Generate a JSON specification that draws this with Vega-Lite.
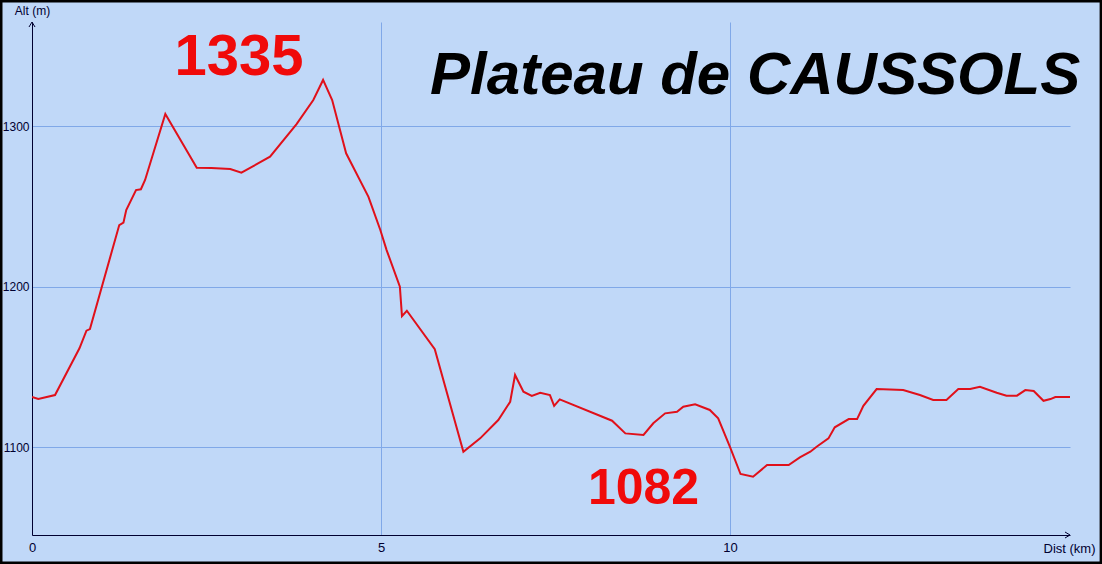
{
  "$schema": "https://vega.github.io/schema/vega-lite/v6.json",
  "width": 1038,
  "height": 513,
  "autosize": {"type": "none"},
  "padding": {"left": 32, "top": 22, "right": 32, "bottom": 29},
  "background": "#C0D8F8",
  "config": {
    "view": {"stroke": null, "fill": "#C0D8F8"},
    "font": "Liberation Sans"
  },
  "data": {
    "values": [
      {"km": 0.00, "alt": 1131.2}, {"km": 0.09, "alt": 1129.9}, {"km": 0.33, "alt": 1132.4},
      {"km": 0.68, "alt": 1161.5}, {"km": 0.78, "alt": 1172.5}, {"km": 0.83, "alt": 1173.5},
      {"km": 1.25, "alt": 1238.3}, {"km": 1.31, "alt": 1239.8}, {"km": 1.35, "alt": 1247.7},
      {"km": 1.49, "alt": 1260.1}, {"km": 1.56, "alt": 1260.6}, {"km": 1.62, "alt": 1266.4},
      {"km": 1.91, "alt": 1307.5}, {"km": 2.36, "alt": 1274.0}, {"km": 2.57, "alt": 1273.8},
      {"km": 2.84, "alt": 1273.2}, {"km": 3.00, "alt": 1270.9}, {"km": 3.41, "alt": 1280.9},
      {"km": 3.79, "alt": 1301.2}, {"km": 4.03, "alt": 1316.2}, {"km": 4.17, "alt": 1328.7},
      {"km": 4.30, "alt": 1316.2}, {"km": 4.50, "alt": 1283.0}, {"km": 4.82, "alt": 1255.9},
      {"km": 4.99, "alt": 1235.2}, {"km": 5.08, "alt": 1222.7}, {"km": 5.27, "alt": 1199.9},
      {"km": 5.30, "alt": 1181.6}, {"km": 5.37, "alt": 1184.9}, {"km": 5.77, "alt": 1160.9},
      {"km": 6.18, "alt": 1097.1}, {"km": 6.42, "alt": 1105.4}, {"km": 6.68, "alt": 1116.8},
      {"km": 6.85, "alt": 1128.2}, {"km": 6.92, "alt": 1144.9}, {"km": 7.04, "alt": 1134.5},
      {"km": 7.16, "alt": 1131.8}, {"km": 7.28, "alt": 1133.8}, {"km": 7.42, "alt": 1132.4},
      {"km": 7.48, "alt": 1125.7}, {"km": 7.56, "alt": 1129.7}, {"km": 8.31, "alt": 1116.4},
      {"km": 8.50, "alt": 1108.5}, {"km": 8.76, "alt": 1107.5}, {"km": 8.90, "alt": 1114.8},
      {"km": 9.07, "alt": 1121.0}, {"km": 9.24, "alt": 1122.0}, {"km": 9.33, "alt": 1125.1},
      {"km": 9.50, "alt": 1126.6}, {"km": 9.71, "alt": 1123.1}, {"km": 9.83, "alt": 1117.9},
      {"km": 10.00, "alt": 1100.0}, {"km": 10.15, "alt": 1083.2}, {"km": 10.33, "alt": 1081.5},
      {"km": 10.53, "alt": 1088.8}, {"km": 10.84, "alt": 1088.8}, {"km": 11.00, "alt": 1093.6},
      {"km": 11.15, "alt": 1097.1}, {"km": 11.24, "alt": 1100.2}, {"km": 11.41, "alt": 1105.4},
      {"km": 11.50, "alt": 1112.3}, {"km": 11.70, "alt": 1117.4}, {"km": 11.82, "alt": 1117.4},
      {"km": 11.91, "alt": 1125.7}, {"km": 12.10, "alt": 1136.1}, {"km": 12.29, "alt": 1135.9},
      {"km": 12.48, "alt": 1135.5}, {"km": 12.72, "alt": 1132.4}, {"km": 12.91, "alt": 1129.3},
      {"km": 13.10, "alt": 1129.3}, {"km": 13.27, "alt": 1136.1}, {"km": 13.44, "alt": 1136.1},
      {"km": 13.58, "alt": 1137.6}, {"km": 13.82, "alt": 1133.8}, {"km": 13.96, "alt": 1132.0},
      {"km": 14.11, "alt": 1132.0}, {"km": 14.23, "alt": 1135.5}, {"km": 14.35, "alt": 1134.9},
      {"km": 14.49, "alt": 1128.8}, {"km": 14.59, "alt": 1129.9}, {"km": 14.66, "alt": 1131.2},
      {"km": 14.87, "alt": 1131.2}
    ]
  },
  "layer": [
    {
      "mark": {"type": "line", "color": "#E0101A", "strokeWidth": 2, "clip": true},
      "encoding": {
        "x": {
          "field": "km", "type": "quantitative",
          "scale": {"domain": [0, 14.87], "nice": false, "zero": false},
          "axis": {
            "values": [0, 5, 10], "format": "d", "grid": true, "gridColor": "#80A8E8", "gridWidth": 1,
            "domainColor": "#000030", "domainWidth": 1, "ticks": false,
            "labelFontSize": 13, "labelColor": "#000030", "labelPadding": 6, "labelFlush": false,
            "title": "Dist (km)", "titleFontSize": 13, "titleFontWeight": "normal", "titleColor": "#000030",
            "titleAnchor": "start", "titleAlign": "right", "titleBaseline": "middle",
            "titleX": 1063, "titleY": 13
          }
        },
        "y": {
          "field": "alt", "type": "quantitative",
          "scale": {"domain": [1045.2, 1364.8], "nice": false, "zero": false},
          "axis": {
            "values": [1100, 1200, 1300], "format": "d", "grid": true, "gridColor": "#80A8E8", "gridWidth": 1,
            "domainColor": "#000030", "domainWidth": 1, "ticks": false,
            "labelFontSize": 12, "labelColor": "#000030", "labelPadding": 3, "labelFlush": false,
            "title": "Alt (m)", "titleFontSize": 12, "titleFontWeight": "normal", "titleColor": "#000030",
            "titleAngle": 0, "titleAlign": "center", "titleBaseline": "middle",
            "titleX": 0, "titleY": -12
          }
        }
      }
    },
    {
      "data": {"values": [{}]},
      "mark": {"type": "point", "shape": "M-0.6,1L0,0L0.6,1", "size": 100, "filled": false, "stroke": "#000030", "strokeWidth": 1, "opacity": 1, "clip": false},
      "encoding": {"x": {"datum": 0}, "y": {"datum": 1364.8}}
    },
    {
      "data": {"values": [{}]},
      "mark": {"type": "point", "shape": "M-1,-0.6L0,0L-1,0.6", "size": 100, "filled": false, "stroke": "#000030", "strokeWidth": 1, "opacity": 1, "clip": false},
      "encoding": {"x": {"datum": 14.87}, "y": {"datum": 1045.2}}
    },
    {
      "data": {"values": [{}]},
      "mark": {"type": "text", "font": "Liberation Sans", "fontSize": 58, "fontWeight": "bold", "color": "#F00A0A", "align": "center", "baseline": "alphabetic"},
      "encoding": {"x": {"datum": 2.966}, "y": {"datum": 1331.8}, "text": {"value": "1335"}}
    },
    {
      "data": {"values": [{}]},
      "mark": {"type": "text", "font": "Liberation Sans", "fontSize": 50, "fontWeight": "bold", "color": "#F00A0A", "align": "center", "baseline": "alphabetic"},
      "encoding": {"x": {"datum": 8.76}, "y": {"datum": 1064.5}, "text": {"value": "1082"}}
    },
    {
      "data": {"values": [{}]},
      "mark": {"type": "text", "font": "Liberation Sans", "fontSize": 60, "fontWeight": "bold", "fontStyle": "italic", "color": "#000000", "align": "center", "baseline": "alphabetic"},
      "encoding": {"x": {"datum": 10.36}, "y": {"datum": 1319.9}, "text": {"value": "Plateau de CAUSSOLS"}}
    },
    {
      "data": {"values": [{}]},
      "mark": {"type": "rect", "fill": null, "fillOpacity": 0, "stroke": "#000000", "strokeWidth": 5, "clip": false},
      "encoding": {"x": {"datum": -0.4585}, "x2": {"datum": 15.33}, "y": {"datum": 1378.5}, "y2": {"datum": 1027.1}}
    }
  ]
}
